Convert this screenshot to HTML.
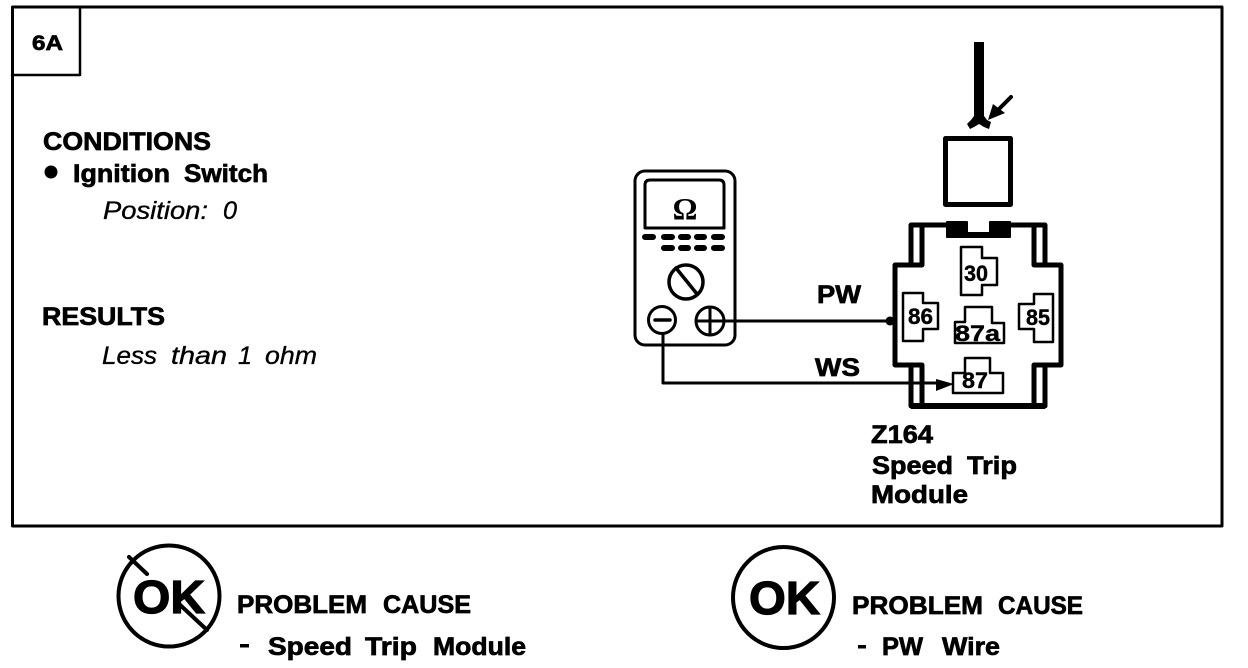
<!DOCTYPE html>
<html><head><meta charset="utf-8"><style>
html,body{margin:0;padding:0;background:#fff;width:1248px;height:668px;overflow:hidden}
svg{display:block}
text{font-family:"Liberation Sans",sans-serif;fill:#000}
.b{font-weight:bold;stroke:#000;stroke-width:.7}
.i{font-style:italic;stroke:#000;stroke-width:.35}
.l{fill:none;stroke:#000;stroke-linejoin:round;stroke-linecap:round}
</style></head><body>
<svg width="1248" height="668" viewBox="0 0 1248 668" xmlns="http://www.w3.org/2000/svg">
<rect x="12.500" y="7" width="1209.500" height="519" class="l" stroke-width="3"/>
<path d="M12 75H80V8" class="l" stroke-width="2.500"/>
<text x="32" y="50" class="b" font-size="21" textLength="31" lengthAdjust="spacingAndGlyphs">6A</text>
<text x="43" y="150" class="b" font-size="25" textLength="168" lengthAdjust="spacingAndGlyphs">CONDITIONS</text>
<circle cx="51" cy="172" r="6.500"/>
<text x="73" y="182" class="b" font-size="25" textLength="97" lengthAdjust="spacingAndGlyphs">Ignition</text>
<text x="184" y="182" class="b" font-size="25" textLength="84" lengthAdjust="spacingAndGlyphs">Switch</text>
<text x="103" y="219" class="i" font-size="25" textLength="105" lengthAdjust="spacingAndGlyphs">Position:</text>
<text x="223" y="219" class="i" font-size="25" textLength="14" lengthAdjust="spacingAndGlyphs">0</text>
<text x="42" y="325" class="b" font-size="25" textLength="123" lengthAdjust="spacingAndGlyphs">RESULTS</text>
<text x="102" y="364" class="i" font-size="25" textLength="55" lengthAdjust="spacingAndGlyphs">Less</text>
<text x="171" y="364" class="i" font-size="25" textLength="56" lengthAdjust="spacingAndGlyphs">than</text>
<text x="238" y="364" class="i" font-size="25" textLength="14" lengthAdjust="spacingAndGlyphs">1</text>
<text x="265" y="364" class="i" font-size="25" textLength="52" lengthAdjust="spacingAndGlyphs">ohm</text>

<!-- meter -->
<rect x="635" y="171" width="100" height="174" rx="10" class="l" stroke-width="3"/>
<path d="M650 180H719Q724 180 724 185V228H645V185Q645 180 650 180Z" class="l" stroke-width="3"/>
<text x="685" y="219" text-anchor="middle" style="font-family:'Liberation Serif',serif;font-weight:bold" font-size="31">Ω</text>
<g class="l" stroke-width="6">
<path d="M645 237H653M664 237H672M681 237H688M697 237H704M714 237H722"/>
<path d="M664 248H672M681 248H688M697 248H704M714 248H722"/>
</g>
<circle cx="686" cy="282" r="17" class="l" stroke-width="3.500"/>
<path d="M676 268L697 294" class="l" stroke-width="3.500"/>
<circle cx="662" cy="320" r="13.500" class="l" stroke-width="3"/>
<path d="M655 320H670" class="l" stroke-width="3.500"/>
<circle cx="710" cy="321" r="14" class="l" stroke-width="3"/>
<path d="M697 321H724M710 308V335" class="l" stroke-width="3"/>
<path d="M724 321H892" class="l" stroke-width="3"/>
<circle cx="890" cy="321" r="4.500"/>
<path d="M663 334V383H942" class="l" stroke-width="3"/>
<path d="M936 379L954 384L936 391Z"/>
<text x="817" y="303" class="b" font-size="25" textLength="44" lengthAdjust="spacingAndGlyphs">PW</text>
<text x="815" y="376" class="b" font-size="25" textLength="45" lengthAdjust="spacingAndGlyphs">WS</text>

<!-- probe -->
<rect x="974" y="42" width="10" height="76"/>
<path d="M974 116H984L987 120L991 122L989 129L984 127L979 124L974 127L970 129L967 124L971 120Z"/>
<path d="M1011 97L997 111" class="l" stroke-width="4"/>
<path d="M988 120L993 104L1005 113Z"/>
<rect x="945.500" y="138.500" width="65" height="66" class="l" stroke-width="5"/>

<!-- module -->
<g class="l" stroke-width="5">
<path d="M911 265V225H1045V265"/>
<path d="M922 225V265H895V365H922V405"/>
<path d="M911 365V406H1045V365"/>
<path d="M1034 225V265H1061V365H1034V405"/>
</g>
<path d="M911 403H1045V409H911Z"/>
<rect x="967" y="220" width="23" height="12" fill="#fff"/>
<path d="M947 222H967V233H990V222H1010V237H947Z" stroke="#000" stroke-linejoin="round" stroke-width="2"/>
<g class="l" stroke-width="2.500">
<path d="M961 247H982V258H997V285H982V295H961Z"/>
<path d="M903 293H923V303H938V329H923V341H903Z"/>
<path d="M1053 294H1034V304H1019V329H1034V342H1053Z"/>
<path d="M965 307H992V323H1004V343H955V322H965Z"/>
<path d="M965 358H990V373H1003V393H953V373H965Z"/>
</g>
<g class="b" font-size="22" style="stroke-width:.4">
<text x="964" y="281" textLength="24" lengthAdjust="spacingAndGlyphs">30</text>
<text x="908" y="324" textLength="25" lengthAdjust="spacingAndGlyphs">86</text>
<text x="1026" y="325" textLength="24" lengthAdjust="spacingAndGlyphs">85</text>
<text x="955" y="341" textLength="45" lengthAdjust="spacingAndGlyphs">87a</text>
<text x="962" y="388" textLength="26" lengthAdjust="spacingAndGlyphs">87</text>
</g>
<text x="871" y="443" class="b" font-size="25" textLength="62" lengthAdjust="spacingAndGlyphs">Z164</text>
<text x="872" y="474" class="b" font-size="25" textLength="81" lengthAdjust="spacingAndGlyphs">Speed</text>
<text x="967" y="474" class="b" font-size="25" textLength="50" lengthAdjust="spacingAndGlyphs">Trip</text>
<text x="871" y="503" class="b" font-size="25" textLength="97" lengthAdjust="spacingAndGlyphs">Module</text>

<!-- left OK -->
<circle cx="169" cy="596" r="50.500" class="l" stroke-width="4"/>
<text x="133" y="613" font-size="46" textLength="72" lengthAdjust="spacingAndGlyphs" class="b" style="stroke-width:1.200">OK</text>
<path d="M129 557L147 574M178 603L207 630" class="l" stroke-width="4"/>
<text x="237" y="613" class="b" font-size="25" textLength="130" lengthAdjust="spacingAndGlyphs">PROBLEM</text>
<text x="383" y="613" class="b" font-size="25" textLength="88" lengthAdjust="spacingAndGlyphs">CAUSE</text>
<rect x="240" y="644" width="9" height="3.500"/>
<text x="268" y="655" class="b" font-size="25" textLength="84" lengthAdjust="spacingAndGlyphs">Speed</text>
<text x="365" y="655" class="b" font-size="25" textLength="52" lengthAdjust="spacingAndGlyphs">Trip</text>
<text x="433" y="655" class="b" font-size="25" textLength="93" lengthAdjust="spacingAndGlyphs">Module</text>

<!-- right OK -->
<circle cx="783.500" cy="597.500" r="50.500" class="l" stroke-width="4"/>
<text x="749" y="614" font-size="46" textLength="71" lengthAdjust="spacingAndGlyphs" class="b" style="stroke-width:1.200">OK</text>
<text x="852" y="614" class="b" font-size="25" textLength="131" lengthAdjust="spacingAndGlyphs">PROBLEM</text>
<text x="998" y="614" class="b" font-size="25" textLength="85" lengthAdjust="spacingAndGlyphs">CAUSE</text>
<rect x="858" y="645" width="8" height="3.500"/>
<text x="882" y="655" class="b" font-size="25" textLength="41" lengthAdjust="spacingAndGlyphs">PW</text>
<text x="942" y="655" class="b" font-size="25" textLength="58" lengthAdjust="spacingAndGlyphs">Wire</text>
</svg>
</body></html>
